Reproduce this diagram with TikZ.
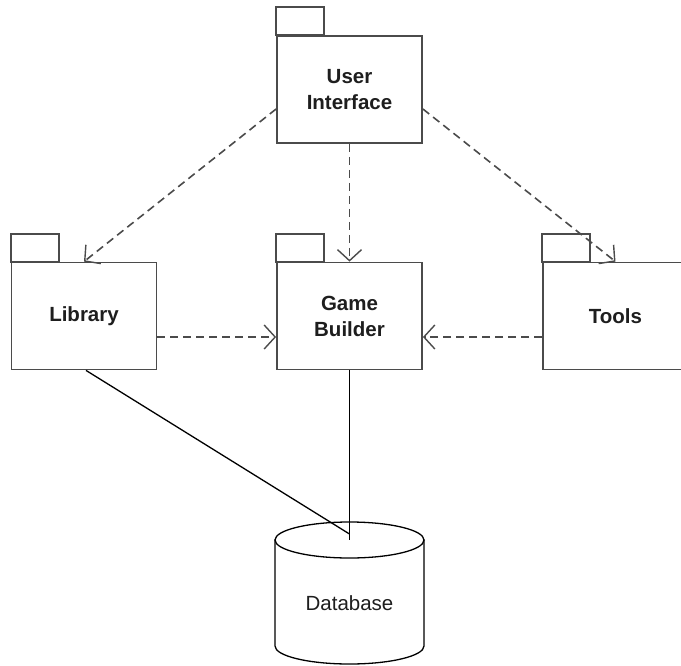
\documentclass[tikz,border=0pt]{standalone}
\usepackage{fontspec}
\setmainfont{Liberation Sans}
\usetikzlibrary{arrows.meta}
\definecolor{ln}{RGB}{75,75,75}
\definecolor{tx}{RGB}{30,30,30}
\begin{document}
\begin{tikzpicture}[x=1pt,y=-1pt,
 pkg/.style={draw=ln, line width=1.8pt, minimum width=145pt, minimum height=107pt, inner sep=0pt,
   font=\fontsize{20.5}{26}\selectfont\bfseries, text=tx, align=center},
 tabbox/.style={draw=ln, line width=1.8pt},
 dep/.style={draw=ln, line width=1.6pt, dash pattern=on 8pt off 5pt,
   -{Straight Barb[length=11pt,width=24pt,line width=1.4pt]}},
 link/.style={draw=black, line width=1.3pt},
 dbshape/.style={draw=black, line width=1.3pt, fill=white}]
\useasboundingbox (0,0) rectangle (681,665);
\begin{scope}
\clip (0,0) rectangle (681,665);
\node[pkg] (ui) at (349.5,89.5) {User\\Interface};
\node[pkg] (lib) at (84,316) {Library};
\node[pkg] (gb) at (349.5,316) {Game\\Builder};
\node[pkg] (tools) at (615.5,316) {Tools};
\foreach \n in {ui,lib,gb,tools}
  \draw[tabbox] (\n.north west) rectangle ++(48,-28);
% database cylinder
\coordinate (dbtop) at (349.5,540);
\path[dbshape] (275,540) -- (275,646) arc[start angle=180, end angle=360, x radius=74.5pt, y radius=18pt] -- (424,540) -- cycle;
\draw[dbshape] (dbtop) ellipse[x radius=74.5pt, y radius=18pt];
\node[font=\fontsize{20.5}{26}\selectfont, text=tx] (db) at (349.5,603) {Database};
% dependencies
\draw[dep] ([yshift=-19.5pt]ui.west) -- (lib.north);
\draw[dep] (ui.south) -- (gb.north);
\draw[dep] ([yshift=-19.5pt]ui.east) -- (tools.north);
\draw[dep] ([yshift=-21pt]lib.east) -- ([yshift=-21pt]gb.west);
\draw[dep] ([yshift=-21pt]tools.west) -- ([yshift=-21pt]gb.east);
% links
\draw[link] (gb.south) -- (dbtop);
\draw[link] ([xshift=2pt]lib.south) -- ([yshift=6pt]dbtop);
\end{scope}
\end{tikzpicture}
\end{document}
